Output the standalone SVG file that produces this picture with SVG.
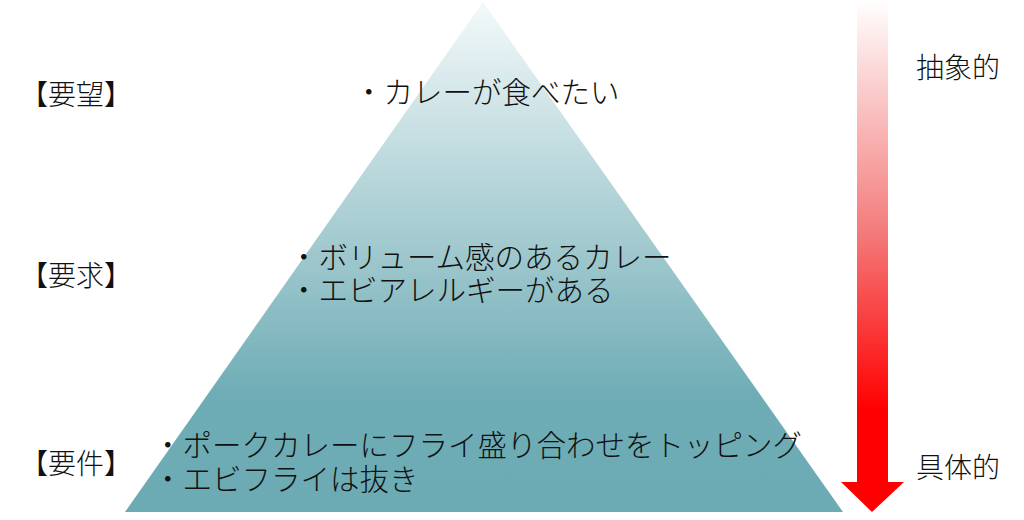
<svg xmlns="http://www.w3.org/2000/svg" width="1024" height="520" viewBox="0 0 1024 520">
  <defs>
    <linearGradient id="triGrad" x1="0" y1="0" x2="0" y2="1">
      <stop offset="0" stop-color="#F3F9FA"/>
      <stop offset="0.45" stop-color="#A6CCD1"/>
      <stop offset="0.77" stop-color="#6FADB6"/>
      <stop offset="1" stop-color="#6CABB4"/>
    </linearGradient>
    <linearGradient id="arrowGrad" x1="0" y1="0" x2="0" y2="512" gradientUnits="userSpaceOnUse">
      <stop offset="0" stop-color="#FFFFFF"/>
      <stop offset="0.45" stop-color="#F47C7C"/>
      <stop offset="0.8" stop-color="#FF0000"/>
      <stop offset="1" stop-color="#FF0000"/>
    </linearGradient>
    <style>
      text { font-family: "Noto Sans CJK JP", "Noto Sans", sans-serif; font-weight: 300; fill: #111111; }
      .lvl { font-size: 28px; }
      .item { font-size: 29.5px; }
      .side { font-size: 28px; }
    </style>
  </defs>
  <rect width="1024" height="520" fill="#FFFFFF"/>

  <g id="pyramid">
    <polygon points="483,2 843,512 125,512" fill="url(#triGrad)"/>
  </g>

  <g id="connectors">
    <polygon points="857,0 888,0 888,482 904,482 872,512 841,482 857,482" fill="url(#arrowGrad)"/>
  </g>

  <g id="level-want">
    <text class="lvl" x="20" y="105">【要望】</text>
    <text class="item" x="354" y="103">・カレーが食べたい</text>
  </g>

  <g id="level-request">
    <text class="lvl" x="20" y="286">【要求】</text>
    <text class="item" x="289" y="268">・ボリューム感のあるカレー</text>
    <text class="item" x="289" y="301">・エビアレルギーがある</text>
  </g>

  <g id="level-requirement">
    <text class="lvl" x="20" y="474">【要件】</text>
    <text class="item" x="153" y="456">・ポークカレーにフライ盛り合わせをトッピング</text>
    <text class="item" x="153" y="490">・エビフライは抜き</text>
  </g>

  <g id="side-labels">
    <text class="side" x="916" y="78">抽象的</text>
    <text class="side" x="916" y="478">具体的</text>
  </g>
</svg>
